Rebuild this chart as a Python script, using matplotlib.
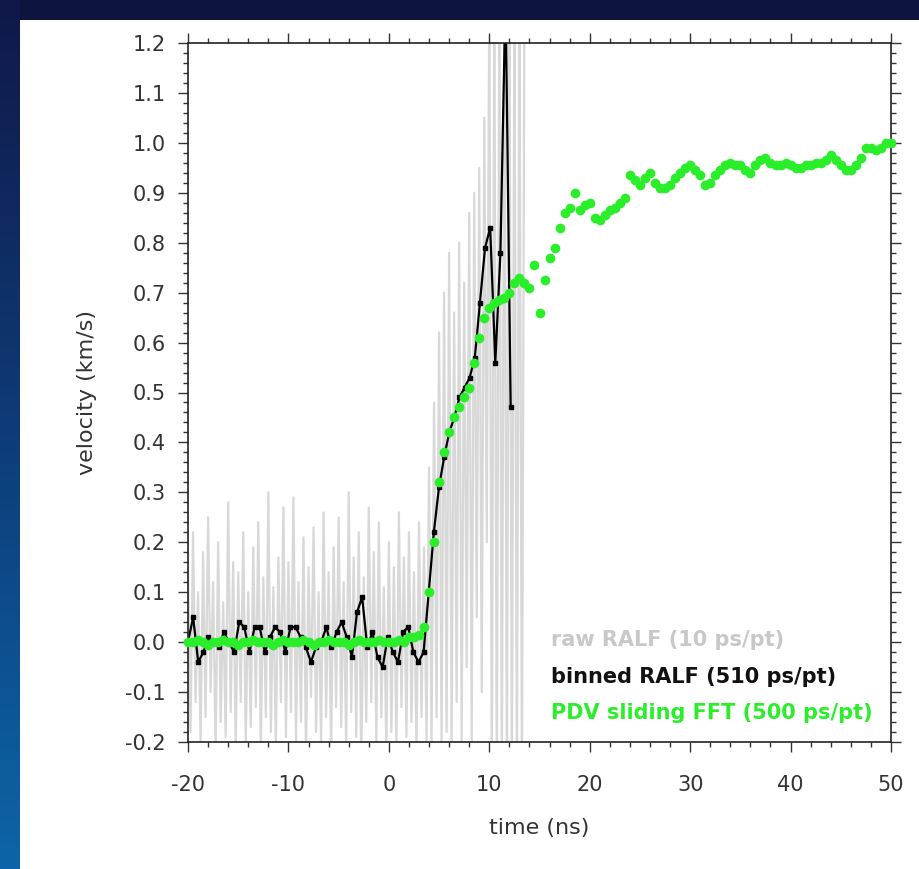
import numpy as np
import matplotlib
matplotlib.use("Agg")
import matplotlib.pyplot as plt
from matplotlib.lines import Line2D
from matplotlib.colors import LinearSegmentedColormap

# ---------------- data ----------------
# raw RALF trace (sampled every 0.25 ns, -20 .. 13 ns)
raw_t0, raw_dt = -20.0, 0.25
raw_values = [
    0.15, -0.18, 0.22, -0.12, 0.10, -0.20, 0.18, -0.15, 0.25, -0.10,
    0.12, -0.22, 0.20, -0.16, 0.08, -0.19, 0.28, -0.14, 0.16, -0.21,
    0.14, -0.12, 0.22, -0.20, 0.10, -0.17, 0.19, -0.13, 0.24, -0.22,
    0.13, -0.15, 0.30, -0.18, 0.11, -0.21, 0.17, -0.12, 0.27, -0.19,
    0.16, -0.14, 0.29, -0.20, 0.12, -0.16, 0.21, -0.23, 0.15, -0.11,
    0.23, -0.18, 0.10, -0.20, 0.26, -0.15, 0.14, -0.22, 0.19, -0.13,
    0.25, -0.17, 0.12, -0.21, 0.30, -0.14, 0.17, -0.19, 0.22, -0.24,
    0.13, -0.16, 0.27, -0.12, 0.18, -0.20, 0.24, -0.15, 0.11, -0.22,
    0.20, -0.18, 0.15, -0.21, 0.26, -0.13, 0.17, -0.19, 0.22, -0.16,
    0.14, -0.22, 0.24, -0.15, 0.19, -0.20,
    0.35, -0.20, 0.48, -0.15, 0.62, -0.20, 0.70, -0.18, 0.78, -0.20,
    0.66, -0.12, 0.80, -0.20, 0.72, -0.05, 0.86, -0.20, 0.90, 0.05,
    0.95, -0.10, 1.05, 0.20,
    1.30, -0.30, 1.30, -0.30, 1.30, -0.30, 1.30, -0.30, 1.30, -0.30,
    1.30, -0.30, 1.30, -0.30, 1.30,
]

# binned RALF (510 ps/pt)
binned_t0, binned_dt = -20.0, 0.51
binned_values = [
    0.00, 0.05, -0.04, -0.02, 0.01, 0.00, -0.01, 0.02, 0.00, -0.02,
    0.04, 0.03, -0.02, 0.03, 0.03, -0.02, 0.01, 0.03, 0.02, -0.02,
    0.03, 0.03, 0.01, -0.01, -0.04, -0.01, 0.00, 0.03, -0.01, 0.02,
    0.04, 0.01, -0.03, 0.06, 0.09, -0.01, 0.02, -0.03, -0.05, 0.01,
    -0.02, -0.04, 0.02, 0.03, -0.02, -0.04, -0.02, 0.10, 0.22, 0.31,
    0.37, 0.42, 0.45, 0.49, 0.51, 0.53, 0.57, 0.68, 0.79, 0.83,
    0.56, 0.78, 1.30, 0.47,
]

# PDV sliding FFT (500 ps/pt), -20 .. 50 ns
pdv_t0, pdv_dt = -20.0, 0.5
pdv_values = [
    0.00, 0.00, 0.005, 0.00, -0.005, 0.00, 0.00, 0.005, 0.00, 0.00,
    -0.005, 0.00, 0.00, 0.005, 0.00, 0.00, 0.00, -0.005, 0.00, 0.005,
    0.00, 0.00, 0.00, 0.005, 0.00, -0.005, 0.00, 0.00, 0.005, 0.00,
    0.00, 0.00, -0.005, 0.00, 0.005, 0.00, 0.00, 0.00, 0.005, 0.00,
    0.00, 0.00, 0.005, 0.00, 0.01, 0.01, 0.015,
    0.03, 0.10, 0.20, 0.32, 0.38, 0.42, 0.45, 0.47, 0.49, 0.51,
    0.56, 0.61, 0.65, 0.67, 0.68, 0.685, 0.69, 0.70, 0.72, 0.73,
    0.72, 0.71, 0.755, 0.66, 0.725, 0.77, 0.79, 0.83, 0.86, 0.87,
    0.90, 0.865, 0.875, 0.88, 0.85, 0.845, 0.855, 0.865, 0.87, 0.88,
    0.89, 0.935, 0.925, 0.915, 0.93, 0.94, 0.92, 0.91, 0.91, 0.915,
    0.93, 0.94, 0.95, 0.955, 0.945, 0.935, 0.915, 0.92, 0.935, 0.945,
    0.955, 0.96, 0.955, 0.955, 0.945, 0.94, 0.955, 0.965, 0.97, 0.96,
    0.955, 0.955, 0.96, 0.955, 0.95, 0.95, 0.955, 0.955, 0.96, 0.96,
    0.965, 0.975, 0.965, 0.955, 0.945, 0.945, 0.955, 0.97, 0.99, 0.99,
    0.985, 0.99, 1.00, 1.00,
]

legend_labels = ["raw RALF (10 ps/pt)", "binned RALF (510 ps/pt)",
                 "PDV sliding FFT (500 ps/pt)"]
legend_colors = ["#c8c8c8", "#111111", "#2aee2a"]
x_ticks = [-20, -10, 0, 10, 20, 30, 40, 50]
y_ticks = [-0.2, -0.1, 0.0, 0.1, 0.2, 0.3, 0.4, 0.5, 0.6, 0.7, 0.8, 0.9, 1.0, 1.1, 1.2]

raw_t = raw_t0 + raw_dt * np.arange(len(raw_values))
binned_t = binned_t0 + binned_dt * np.arange(len(binned_values))
pdv_t = pdv_t0 + pdv_dt * np.arange(len(pdv_values))

# ---------------- figure ----------------
plt.rcParams['font.family'] = ['DejaVu Sans']
fig = plt.figure(figsize=(9.19, 8.69), dpi=100, facecolor="white")

# slide background strips (dark top band, blue gradient at left)
bg_top = fig.add_axes([0, 1 - 20 / 869, 1, 20 / 869])
bg_top.set_axis_off()
bg_top.add_patch(plt.Rectangle((0, 0), 1, 1, color="#0e1440",
                               transform=bg_top.transAxes))
bg_left = fig.add_axes([0, 0, 20 / 919, 1])
grad = np.linspace(0, 1, 256).reshape(-1, 1)
cmap = LinearSegmentedColormap.from_list("slide", ["#0c65a8", "#0e3c78", "#101848"])
bg_left.imshow(grad, aspect="auto", cmap=cmap, origin="lower", extent=[0, 1, 0, 1])
bg_left.set_axis_off()

ax = fig.add_axes([188 / 919, 1 - 742 / 869, (891 - 188) / 919, (742 - 43) / 869])

ax.plot(raw_t, raw_values, color="#d8d8d8", lw=1.6, zorder=1)
ax.plot(binned_t, binned_values, color="black", lw=1.6, marker="s", ms=3.5,
        zorder=2)
ax.plot(pdv_t, pdv_values, ls="none", marker="o", ms=7, color="#2aee2a",
        markeredgewidth=0, zorder=3, clip_on=False)

ax.set_xlim(-20, 50)
ax.set_ylim(-0.2, 1.2)
ax.set_xticks(x_ticks)
ax.set_xticklabels([str(v) for v in x_ticks])
ax.set_yticks(y_ticks)
ax.set_yticklabels([f"{v:.1f}" for v in y_ticks])
ax.set_xticks(np.arange(-20, 51, 2), minor=True)
ax.set_yticks(np.arange(-0.2, 1.201, 0.02), minor=True)
ax.tick_params(which="both", direction="out", top=True, right=True,
               labeltop=False, labelright=False, colors="#333333",
               labelsize=15, width=1.0)
ax.tick_params(which="major", length=7)
ax.tick_params(which="minor", length=3.5)
ax.tick_params(axis="x", which="major", pad=17)
ax.tick_params(axis="y", which="major", pad=9)
for s in ax.spines.values():
    s.set_linewidth(1.2)
    s.set_color("#222222")

ax.set_xlabel("time (ns)", fontsize=16, color="#333333", labelpad=16)
ax.set_ylabel("velocity (km/s)", fontsize=16, color="#333333", labelpad=20)

handles = [Line2D([], [], ls="none") for _ in legend_labels]
leg = ax.legend(handles, legend_labels, loc="lower right", frameon=False,
                handlelength=0, handletextpad=0, labelspacing=0.8,
                borderaxespad=0.6, borderpad=0.3,
                prop={"weight": "bold", "size": 15})
for txt, col in zip(leg.get_texts(), legend_colors):
    txt.set_color(col)

fig.savefig("out.png", dpi=100, facecolor=fig.get_facecolor())
